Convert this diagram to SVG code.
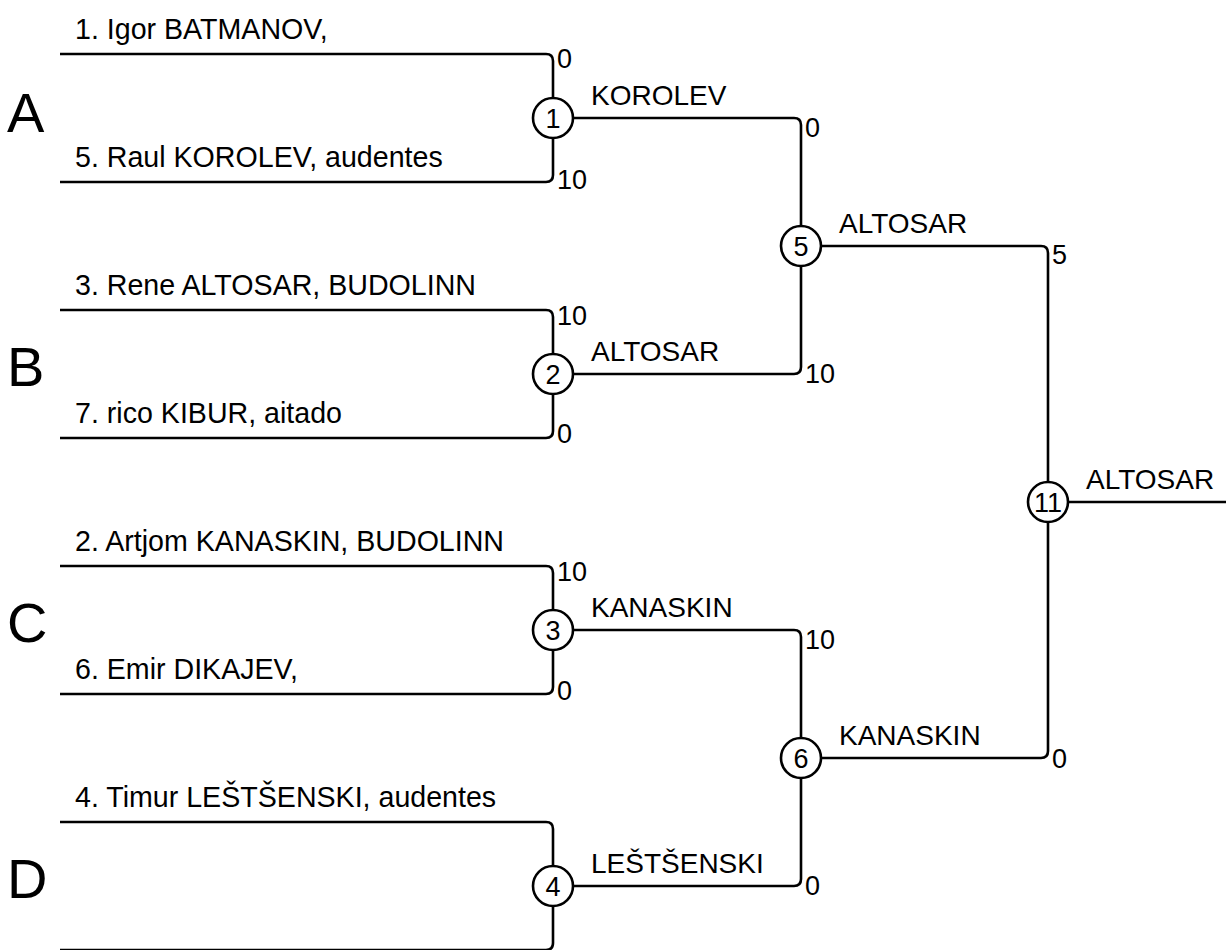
<svg xmlns="http://www.w3.org/2000/svg" width="1226" height="950" viewBox="0 0 1226 950">
<style>
.ln{fill:none;stroke:#000;stroke-width:2.6}
.nd circle{fill:#fff;stroke:#000;stroke-width:2.6}
text{font-family:"Liberation Sans",Arial,sans-serif;font-size:27px;fill:#000}
.num{text-anchor:middle}
.nm{font-size:28.6px}
.lb{font-size:28px}
.big{font-size:56px}
</style>
<rect width="1226" height="950" fill="#fff"/>
<g id="connectors">
<path class="ln" d="M60,54 H546 Q553,54 553,61 V175 Q553,182 546,182 H60"/>
<path class="ln" d="M60,310 H546 Q553,310 553,317 V431 Q553,438 546,438 H60"/>
<path class="ln" d="M60,566 H546 Q553,566 553,573 V687 Q553,694 546,694 H60"/>
<path class="ln" d="M60,822 H546 Q553,822 553,829 V943 Q553,950 546,950 H60"/>
<path class="ln" d="M553,118 H794 Q801,118 801,125 V367 Q801,374 794,374 H553"/>
<path class="ln" d="M553,630 H794 Q801,630 801,637 V879 Q801,886 794,886 H553"/>
<path class="ln" d="M801,246 H1041 Q1048,246 1048,253 V751 Q1048,758 1041,758 H801"/>
<path class="ln" d="M1048,502 H1226"/>
</g>
<g id="groups">
<text class="big" x="7" y="132">A</text>
<text class="big" x="7" y="386">B</text>
<text class="big" x="7" y="642">C</text>
<text class="big" x="7" y="898">D</text>
</g>
<g id="entrants" class="nm">
<text class="nm" x="75" y="39">1. Igor BATMANOV,</text>
<text class="nm" x="75" y="167">5. Raul KOROLEV, audentes</text>
<text class="nm" x="75" y="295">3. Rene ALTOSAR, BUDOLINN</text>
<text class="nm" x="75" y="423">7. rico KIBUR, aitado</text>
<text class="nm" x="75" y="551">2. Artjom KANASKIN, BUDOLINN</text>
<text class="nm" x="75" y="679">6. Emir DIKAJEV,</text>
<text class="nm" x="75" y="807">4. Timur LEŠTŠENSKI, audentes</text>
</g>
<g id="m1" class="nd"><circle cx="553" cy="118" r="20"/><text class="num" x="553" y="128">1</text>
<text x="557" y="68">0</text><text x="557" y="189">10</text><text class="lb" x="591" y="105">KOROLEV</text></g>
<g id="m2" class="nd"><circle cx="553" cy="374" r="20"/><text class="num" x="553" y="384">2</text>
<text x="557" y="325">10</text><text x="557" y="443">0</text><text class="lb" x="591" y="361">ALTOSAR</text></g>
<g id="m3" class="nd"><circle cx="553" cy="630" r="20"/><text class="num" x="553" y="640">3</text>
<text x="557" y="581">10</text><text x="557" y="700">0</text><text class="lb" x="591" y="617">KANASKIN</text></g>
<g id="m4" class="nd"><circle cx="553" cy="886" r="20"/><text class="num" x="553" y="896">4</text>
<text class="lb" x="591" y="873">LEŠTŠENSKI</text></g>
<g id="m5" class="nd"><circle cx="801" cy="246" r="20"/><text class="num" x="801" y="256">5</text>
<text x="805" y="137">0</text><text x="805" y="383">10</text><text class="lb" x="839" y="233">ALTOSAR</text></g>
<g id="m6" class="nd"><circle cx="801" cy="758" r="20"/><text class="num" x="801" y="768">6</text>
<text x="805" y="649">10</text><text x="805" y="895">0</text><text class="lb" x="839" y="745">KANASKIN</text></g>
<g id="m11" class="nd"><circle cx="1048" cy="502" r="20"/><text class="num" x="1048" y="512">11</text>
<text x="1052" y="264">5</text><text x="1052" y="768">0</text><text class="lb" x="1086" y="489">ALTOSAR</text></g>
</svg>
